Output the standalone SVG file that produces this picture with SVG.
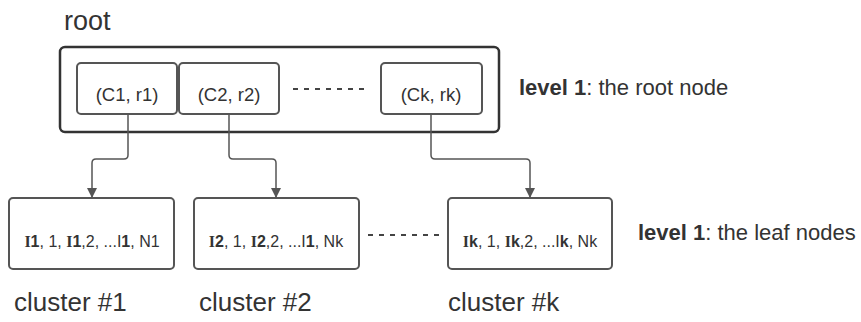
<svg xmlns="http://www.w3.org/2000/svg" width="861" height="322" viewBox="0 0 861 322">
<defs>
<style>
.t{font-family:"Liberation Sans",Arial,sans-serif;fill:#333}
.box{fill:#fff;stroke:#555;stroke-width:2}
.outer{fill:#fff;stroke:#333;stroke-width:2.5}
.conn{fill:none;stroke:#555;stroke-width:1.5}
.dash{stroke:#444;stroke-width:2;stroke-dasharray:5 6}
.s{font-family:"Liberation Serif","Times New Roman",serif;font-weight:bold}
.b{font-weight:bold}
</style>
<marker id="arr" viewBox="0 0 10 10" refX="10" refY="5" markerWidth="10" markerHeight="10" markerUnits="userSpaceOnUse" orient="auto">
<path d="M0,0 L10,5 L0,10 z" fill="#555"/>
</marker>
</defs>
<rect width="861" height="322" fill="#fff"/>
<text class="t" x="64" y="30" font-size="27">root</text>
<g id="root">
<rect class="outer" x="60" y="47" width="439" height="85" rx="5"/>
</g>
<g id="c1">
<rect class="box" x="77" y="63" width="100" height="51" rx="4"/>
<text class="t" x="127" y="101" font-size="18.5" text-anchor="middle">(C1, r1)</text>
</g>
<g id="c2">
<rect class="box" x="179" y="63" width="100" height="51" rx="4"/>
<text class="t" x="229" y="101" font-size="18.5" text-anchor="middle">(C2, r2)</text>
</g>
<g id="ck">
<rect class="box" x="381" y="63" width="101" height="51" rx="4"/>
<text class="t" x="431" y="101" font-size="18.5" text-anchor="middle">(Ck, rk)</text>
</g>
<text class="t" x="519" y="95" font-size="22"><tspan class="b">level 1</tspan>: the root node</text>
<g id="leaf1">
<rect class="box" x="9" y="198" width="165" height="71" rx="4"/>
<text class="t" x="92" y="247" font-size="16" text-anchor="middle"><tspan class="s">I</tspan><tspan class="b">1</tspan>, 1, <tspan class="s">I</tspan><tspan class="b">1</tspan>,2, ...I<tspan class="b">1</tspan>, N1</text>
</g>
<g id="leaf2">
<rect class="box" x="194" y="198" width="165" height="71" rx="4"/>
<text class="t" x="276" y="247" font-size="16" text-anchor="middle"><tspan class="s">I</tspan><tspan class="b">2</tspan>, 1, <tspan class="s">I</tspan><tspan class="b">2</tspan>,2, ...I<tspan class="b">1</tspan>, Nk</text>
</g>
<g id="leafk">
<rect class="box" x="448" y="198" width="164" height="71" rx="4"/>
<text class="t" x="530" y="247" font-size="16" text-anchor="middle"><tspan class="s">I</tspan><tspan class="b">k</tspan>, 1, <tspan class="s">I</tspan><tspan class="b">k</tspan>,2, ...I<tspan class="b">k</tspan>, Nk</text>
</g>
<text class="t" x="638" y="240" font-size="22"><tspan class="b">level 1</tspan>: the leaf nodes</text>
<text class="t" x="14" y="311" font-size="26">cluster #1</text>
<text class="t" x="199" y="311" font-size="26">cluster #2</text>
<text class="t" x="448" y="311" font-size="26">cluster #k</text>
<g id="connectors">
<path class="conn" d="M128,114 V155 Q128,159 124,159 H96 Q92,159 92,163 V198" marker-end="url(#arr)"/>
<path class="conn" d="M229,114 V155 Q229,159 233,159 H272 Q276,159 276,163 V198" marker-end="url(#arr)"/>
<path class="conn" d="M431,114 V155 Q431,159 435,159 H526 Q530,159 530,163 V198" marker-end="url(#arr)"/>
<line class="dash" x1="293" y1="89" x2="370" y2="89"/>
<line class="dash" x1="368" y1="235" x2="445" y2="235"/>
</g>
</svg>
